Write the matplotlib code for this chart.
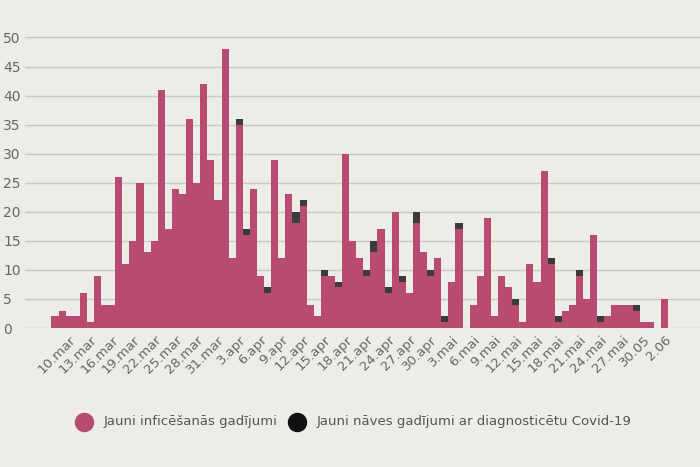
import datetime as dt
import matplotlib.pyplot as plt
from matplotlib.lines import Line2D

# daily values from 8 March to 2 June
infected = [2, 3, 2, 2, 6, 1, 9, 4, 4, 26, 11, 15, 25, 13, 15, 41, 17, 24, 23, 36,
            25, 42, 29, 22, 48, 12, 35, 16, 24, 9, 6, 29, 12, 23, 18, 21, 4, 2, 9, 9,
            7, 30, 15, 12, 9, 13, 17, 6, 20, 8, 6, 18, 13, 9, 12, 1, 8, 17, 0, 4,
            9, 19, 2, 9, 7, 4, 1, 11, 8, 27, 11, 1, 3, 4, 9, 5, 16, 1, 2, 4,
            4, 4, 3, 1, 1, 0, 5]
deaths = [0, 0, 0, 0, 0, 0, 0, 0, 0, 0, 0, 0, 0, 0, 0, 0, 0, 0, 0, 0,
          0, 0, 0, 0, 0, 0, 1, 1, 0, 0, 1, 0, 0, 0, 2, 1, 0, 0, 1, 0,
          1, 0, 0, 0, 1, 2, 0, 1, 0, 1, 0, 2, 0, 1, 0, 1, 0, 1, 0, 0,
          0, 0, 0, 0, 0, 1, 0, 0, 0, 0, 1, 1, 0, 0, 1, 0, 0, 1, 0, 0,
          0, 0, 1, 0, 0, 0, 0]
start = dt.date(2020, 3, 8)
months = {3: "mar", 4: "apr", 5: "mai"}

pink = "#b84b72"
dark = "#3b3b3b"
bg = "#edece6"

days = list(range(len(infected)))
dates = [start + dt.timedelta(days=d) for d in days]

fig = plt.figure(figsize=(7, 4.67), dpi=100, facecolor=bg)
ax = fig.add_axes([0.036, 0.2976, 0.964, 0.647], facecolor=bg)

ax.bar(days, infected, width=1.0, color=pink, zorder=3)
ax.bar(days, deaths, width=1.0, bottom=infected, color=dark, zorder=3)

ax.set_xlim(-4.2, 91)
ax.set_ylim(0, 52)
ax.set_yticks(range(0, 51, 5))
ax.set_yticklabels([str(v) for v in range(0, 51, 5)], ha="left")
ax.tick_params(axis="y", length=0, pad=16, labelsize=10, labelcolor="#666666")
ax.grid(axis="y", color="#c9c8c2", linewidth=1, zorder=0)

tick_pos = list(range(2, len(days), 3))
tick_lab = []
for p in tick_pos:
    d = dates[p]
    if d.month == 5 and d.day >= 30 or d.month == 6:
        tick_lab.append(f"{d.day}.{d.month:02d}")
    else:
        tick_lab.append(f"{d.day}.{months[d.month]}")
ax.set_xticks(tick_pos)
ax.set_xticklabels(tick_lab, rotation=45, ha="right", rotation_mode="anchor")
ax.tick_params(axis="x", length=0, pad=4, labelsize=9.5, labelcolor="#666666")
for s in ax.spines.values():
    s.set_visible(False)

# legend drawn in figure coordinates
fig.add_artist(Line2D([84 / 700], [1 - 422 / 467], marker="o", markersize=13,
                      color=pink, transform=fig.transFigure))
fig.text(104 / 700, 1 - 422 / 467, "Jauni inficēšanās gadījumi", va="center",
         fontsize=9.5, color="#555555")
fig.add_artist(Line2D([297 / 700], [1 - 422 / 467], marker="o", markersize=13,
                      color="#111111", transform=fig.transFigure))
fig.text(317 / 700, 1 - 422 / 467, "Jauni nāves gadījumi ar diagnosticētu Covid-19",
         va="center", fontsize=9.5, color="#555555")

fig.savefig("out.png", dpi=100, facecolor=bg)
